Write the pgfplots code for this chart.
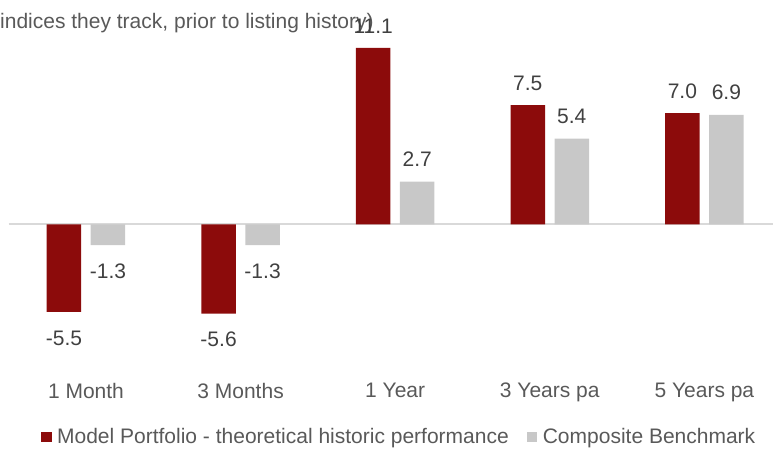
\documentclass[border=0pt]{standalone}
\usepackage{pgfplots}
\pgfplotsset{compat=1.18}
\usepackage{fontspec}
\setmainfont{Liberation Sans}
\definecolor{modred}{HTML}{8C0B0B}
\definecolor{bench}{HTML}{C8C8C8}
\definecolor{zeroline}{HTML}{D9D9D9}
\definecolor{lbl}{HTML}{404040}
\definecolor{txt}{HTML}{595959}
\begin{document}
\begin{tikzpicture}
\useasboundingbox (0,0) rectangle (773pt,448pt);
\node[anchor=base west, inner sep=0pt, text=txt, font=\fontsize{21}{25}\selectfont] at (0pt,419pt) {indices they track, prior to listing history)};
\begin{axis}[
  at={(8.7pt,69.3pt)}, anchor=south west,
  scale only axis, width=764.3pt, height=345.03pt,
  xmin=-0.5, xmax=4.444, ymin=-9.7, ymax=12,
  ybar=9.5pt, bar width=34.5pt,
  clip=false,
  axis line style={draw=none},
  ytick=\empty,
  major tick length=0pt,
  xtick={0,1,2,3,4},
  xticklabels={1 Month,3 Months,1 Year,3 Years pa,5 Years pa},
  xticklabel style={inner sep=0pt, yshift=-4pt, text=txt, font=\fontsize{21}{25}\selectfont},
  nodes near coords={\pgfmathprintnumber[fixed, fixed zerofill, precision=1, assume math mode=true]{\pgfplotspointmeta}},
  visualization depends on={y \as \rawy},
  every node near coord/.append style={inner sep=0pt, text=lbl, font=\fontsize{21}{25}\selectfont, yshift={(\rawy<0)*(-33)+14.5}},
  legend columns=2,
  legend cell align=left,
  legend style={draw=none, fill=none, at={(0.5096,-0.169)}, anchor=center,
    font=\fontsize{21}{25}\selectfont, text=txt,
    nodes={inner sep=0pt}, column sep=0pt,
    /tikz/every odd column/.append style={column sep=5.5pt},
    /tikz/every even column/.append style={column sep=18pt}},
  legend image code/.code={\fill[#1] (0pt,-5.25pt) rectangle (10.5pt,5.25pt);},
]
\draw[zeroline, line width=2pt] (axis cs:-0.5,0) -- (axis cs:4.444,0);
\addplot[fill=modred, draw=none] coordinates {(0,-5.5) (1,-5.6) (2,11.1) (3,7.5) (4,7.0)};
\addplot[fill=bench, draw=none] coordinates {(0,-1.3) (1,-1.3) (2,2.7) (3,5.4) (4,6.9)};
\legend{Model Portfolio - theoretical historic performance, Composite Benchmark}
\end{axis}
\end{tikzpicture}
\end{document}
